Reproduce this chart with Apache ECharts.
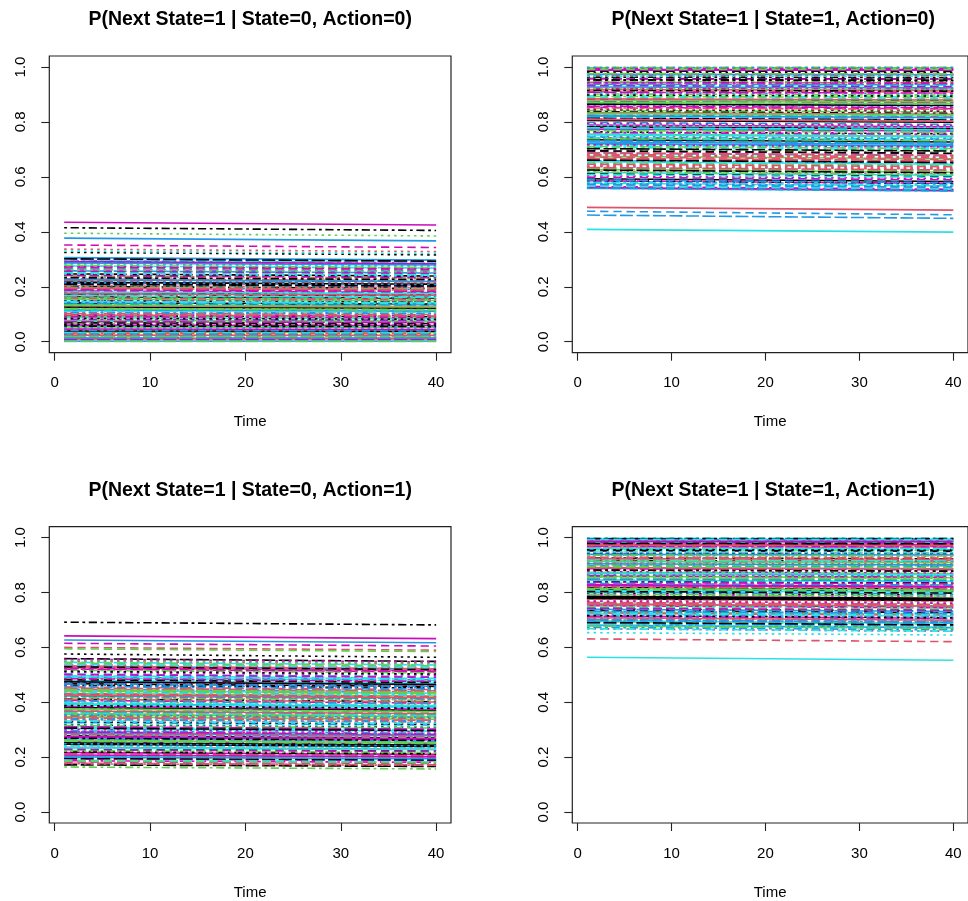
<!DOCTYPE html>
<html>
<head>
<meta charset="utf-8">
<script src="https://cdn.jsdelivr.net/npm/echarts@6/dist/echarts.min.js"></script>
<style>
html,body{margin:0;padding:0;background:#fff;}
#chart{width:968px;height:901px;}
</style>
</head>
<body>
<div id="chart"></div>
<script>
// Time points where each trajectory is drawn (first and last time step)
const timePoints = [1, 40];

// Panel titles
const panelTitles = [
  "P(Next State=1 | State=0, Action=0)",
  "P(Next State=1 | State=1, Action=0)",
  "P(Next State=1 | State=0, Action=1)",
  "P(Next State=1 | State=1, Action=1)"
];

// Axis tick labels
const xTicks = [0, 10, 20, 30, 40];
const yTicks = [0, 0.2, 0.4, 0.6, 0.8, 1.0];

// Panel 1: State=0, Action=0 (value at t=1, value at t=40)
const s0a0Start = [
0.142,0.268,0.395,0.021,0.187,0.435,0.094,0.337,0.231,0.058,
0.176,0.352,0.325,0.118,0.009,0.377,0.254,0.071,0.415,0.203,
0.035,0.289,0.33,0.152,0.247,0.012,0.129,0.196,0.083,0.301,
0.164,0.044,0.221,0.105,0.276,0.003,0.138,0.213,0.066,0.258,
0.117,0.185,0.027,0.239,0.092,0.306,0.158,0.015,0.201,0.134,
0.078,0.262,0.049,0.171,0.226,0.006,0.112,0.284,0.146,0.192,
0.039,0.218,0.101,0.295,0.167,0.061,0.243,0.124,0.018,0.207,
0.087,0.272,0.149,0.031,0.198,0.115,0.251,0.002,0.179,0.229,
0.054,0.136,0.281,0.098,0.212,0.024,0.161,0.265,0.075,0.189,
0.126,0.011,0.236,0.108,0.298,0.046,0.173,0.222,0.089,0.141,
0.004,0.257,0.063,0.194,0.119,0.287,0.032,0.183,0.233,0.097,
0.155,0.016,0.246,0.081,0.209,0.131,0.278,0.052,0.169,0.008,
0.216,0.103,0.262,0.041,0.147,0.292,0.069,0.204,0.121,0.013,
0.181,0.241,0.085,0.159,0.001,0.226,0.111,0.273,0.057,0.195,
0.133,0.028,0.249,0.091,0.302,0.175,0.019,0.215,0.144,0.073];
const s0a0End = [
0.137,0.260,0.385,0.020,0.181,0.425,0.091,0.328,0.224,0.056,
0.170,0.343,0.316,0.114,0.009,0.367,0.246,0.068,0.405,0.196,
0.034,0.281,0.321,0.147,0.239,0.012,0.124,0.190,0.080,0.292,
0.158,0.042,0.214,0.101,0.268,0.003,0.133,0.206,0.063,0.250,
0.113,0.179,0.026,0.231,0.089,0.297,0.152,0.015,0.194,0.129,
0.075,0.254,0.047,0.165,0.219,0.006,0.108,0.276,0.141,0.186,
0.038,0.211,0.097,0.287,0.161,0.059,0.236,0.120,0.018,0.200,
0.084,0.264,0.144,0.030,0.192,0.111,0.243,0.002,0.173,0.222,
0.052,0.131,0.273,0.094,0.205,0.023,0.155,0.257,0.072,0.183,
0.122,0.011,0.229,0.104,0.289,0.044,0.167,0.215,0.086,0.136,
0.004,0.249,0.061,0.188,0.115,0.279,0.031,0.177,0.226,0.093,
0.150,0.016,0.238,0.078,0.202,0.126,0.270,0.050,0.163,0.008,
0.209,0.099,0.254,0.039,0.142,0.284,0.066,0.197,0.117,0.013,
0.175,0.233,0.082,0.153,0.001,0.219,0.107,0.265,0.055,0.189,
0.128,0.027,0.241,0.088,0.293,0.169,0.019,0.208,0.139,0.070];

// Panel 2: State=1, Action=0
const s1a0Start = [
0.735,0.912,0.648,0.583,0.867,0.774,0.958,0.621,0.806,0.461,
0.409,0.693,0.981,0.562,0.842,0.727,0.889,0.604,0.951,0.668,
0.756,0.475,0.574,0.923,0.815,0.489,0.997,0.639,0.713,0.876,
0.782,0.571,0.934,0.659,0.828,0.991,0.612,0.749,0.902,0.686,
0.558,0.853,0.764,0.969,0.631,0.721,0.895,0.592,0.837,0.944,
0.675,0.798,0.986,0.565,0.741,0.918,0.652,0.861,0.707,0.975,
0.593,0.824,0.699,0.939,0.577,0.789,0.882,0.643,0.999,0.731,
0.616,0.957,0.845,0.682,0.769,0.927,0.597,0.811,0.963,0.664,
0.878,0.745,0.568,0.994,0.703,0.834,0.627,0.906,0.758,0.586,
0.865,0.672,0.948,0.719,0.819,0.561,0.985,0.637,0.893,0.776,
0.655,0.932,0.587,0.851,0.739,0.973,0.608,0.794,0.915,0.688,
0.831,0.572,0.966,0.762,0.625,0.884,0.711,0.998,0.579,0.857,
0.805,0.646,0.921,0.559,0.779,0.988,0.695,0.848,0.618,0.937,
0.753,0.599,0.898,0.678,0.976,0.822,0.566,0.717,0.954,0.634,
0.871,0.589,0.787,0.943,0.661,0.809,0.992,0.576,0.743,0.908];
const s1a0End = [
0.727,0.909,0.639,0.573,0.862,0.767,0.956,0.611,0.800,0.449,
0.399,0.684,0.980,0.552,0.836,0.719,0.885,0.594,0.949,0.659,
0.748,0.462,0.564,0.920,0.809,0.479,0.997,0.630,0.705,0.871,
0.775,0.561,0.931,0.650,0.822,0.991,0.602,0.741,0.898,0.677,
0.548,0.848,0.757,0.968,0.621,0.713,0.891,0.582,0.831,0.942,
0.666,0.791,0.985,0.555,0.733,0.915,0.643,0.856,0.699,0.974,
0.583,0.818,0.690,0.937,0.567,0.782,0.878,0.634,0.999,0.723,
0.606,0.955,0.840,0.673,0.762,0.924,0.587,0.805,0.961,0.655,
0.874,0.737,0.558,0.994,0.694,0.828,0.617,0.902,0.750,0.576,
0.860,0.663,0.946,0.711,0.813,0.551,0.984,0.628,0.889,0.769,
0.646,0.929,0.577,0.846,0.731,0.972,0.598,0.787,0.912,0.679,
0.825,0.562,0.965,0.755,0.615,0.880,0.703,0.998,0.569,0.852,
0.799,0.637,0.918,0.549,0.772,0.988,0.686,0.843,0.608,0.935,
0.745,0.589,0.894,0.669,0.975,0.816,0.556,0.709,0.952,0.625,
0.866,0.579,0.780,0.941,0.652,0.803,0.992,0.566,0.735,0.905];

// Panel 3: State=0, Action=1
const s0a1Start = [
0.278,0.600,0.417,0.352,0.489,0.642,0.231,0.537,0.164,0.396,
0.304,0.615,0.576,0.448,0.262,0.627,0.371,0.509,0.692,0.213,
0.433,0.326,0.552,0.187,0.468,0.289,0.595,0.384,0.243,0.521,
0.381,0.456,0.198,0.342,0.497,0.271,0.412,0.549,0.224,0.363,
0.479,0.256,0.318,0.438,0.205,0.531,0.389,0.294,0.462,0.178,
0.347,0.503,0.267,0.421,0.559,0.236,0.374,0.448,0.309,0.193,
0.252,0.485,0.401,0.337,0.546,0.217,0.429,0.284,0.517,0.366,
0.443,0.183,0.329,0.474,0.258,0.394,0.538,0.301,0.219,0.452,
0.356,0.492,0.241,0.407,0.172,0.526,0.315,0.463,0.279,0.385,
0.247,0.431,0.554,0.296,0.361,0.208,0.482,0.335,0.418,0.266,
0.392,0.227,0.513,0.349,0.441,0.286,0.189,0.472,0.378,0.532,
0.261,0.405,0.322,0.486,0.196,0.368,0.543,0.249,0.436,0.311,
0.475,0.343,0.222,0.458,0.398,0.275,0.529,0.176,0.359,0.423,
0.234,0.501,0.388,0.283,0.446,0.201,0.332,0.557,0.269,0.411,
0.376,0.468,0.239,0.524,0.306,0.427,0.185,0.354,0.494,0.292];
const s0a1End = [
0.270,0.590,0.407,0.343,0.479,0.632,0.224,0.527,0.157,0.386,
0.295,0.605,0.564,0.438,0.254,0.617,0.361,0.499,0.682,0.206,
0.423,0.317,0.542,0.181,0.458,0.281,0.585,0.374,0.235,0.511,
0.371,0.446,0.192,0.333,0.487,0.263,0.402,0.539,0.217,0.353,
0.469,0.248,0.309,0.428,0.198,0.521,0.379,0.285,0.452,0.172,
0.338,0.493,0.259,0.411,0.549,0.229,0.364,0.438,0.300,0.187,
0.244,0.475,0.391,0.328,0.536,0.210,0.419,0.276,0.507,0.356,
0.433,0.177,0.320,0.464,0.250,0.384,0.528,0.292,0.212,0.442,
0.347,0.482,0.233,0.397,0.166,0.516,0.306,0.453,0.271,0.375,
0.239,0.421,0.544,0.287,0.352,0.201,0.472,0.326,0.408,0.258,
0.382,0.220,0.503,0.340,0.431,0.278,0.183,0.462,0.368,0.522,
0.253,0.395,0.313,0.476,0.190,0.358,0.533,0.241,0.426,0.302,
0.465,0.334,0.215,0.448,0.388,0.267,0.519,0.170,0.350,0.413,
0.227,0.491,0.378,0.275,0.436,0.194,0.323,0.547,0.261,0.401,
0.366,0.458,0.231,0.514,0.297,0.417,0.179,0.345,0.484,0.283];

// Panel 4: State=1, Action=1
const s1a1Start = [
0.781,0.631,0.934,0.712,0.868,0.976,0.745,0.903,0.823,0.687,
0.564,0.952,0.798,0.881,0.729,0.991,0.846,0.668,0.917,0.764,
0.859,0.703,0.654,0.941,0.812,0.985,0.738,0.896,0.677,0.963,
0.786,0.927,0.834,0.719,0.998,0.871,0.756,0.945,0.694,0.889,
0.807,0.969,0.741,0.912,0.852,0.681,0.979,0.792,0.926,0.725,
0.874,0.958,0.768,0.838,0.996,0.708,0.893,0.817,0.948,0.752,
0.778,0.921,0.863,0.673,0.984,0.829,0.735,0.908,0.956,0.801,
0.697,0.887,0.943,0.776,0.853,0.993,0.722,0.915,0.841,0.965,
0.759,0.898,0.683,0.937,0.818,0.972,0.747,0.866,0.989,0.714,
0.784,0.929,0.856,0.701,0.961,0.826,0.953,0.773,0.901,0.739,
0.845,0.982,0.716,0.884,0.794,0.939,0.668,0.876,0.997,0.762,
0.913,0.833,0.751,0.967,0.691,0.891,0.812,0.946,0.726,0.861,
0.779,0.974,0.859,0.732,0.919,0.987,0.804,0.706,0.936,0.848,
0.871,0.743,0.957,0.821,0.678,0.905,0.994,0.768,0.882,0.924,
0.815,0.698,0.949,0.838,0.979,0.757,0.894,0.731,0.962,0.826];
const s1a1End = [
0.774,0.621,0.931,0.704,0.863,0.975,0.737,0.899,0.817,0.678,
0.553,0.950,0.791,0.877,0.721,0.991,0.841,0.659,0.914,0.757,
0.854,0.694,0.645,0.939,0.806,0.984,0.730,0.892,0.668,0.961,
0.779,0.924,0.828,0.711,0.998,0.866,0.748,0.943,0.685,0.885,
0.801,0.968,0.733,0.909,0.847,0.672,0.978,0.785,0.923,0.717,
0.869,0.956,0.761,0.832,0.996,0.699,0.889,0.811,0.946,0.744,
0.771,0.918,0.858,0.664,0.983,0.823,0.727,0.905,0.954,0.794,
0.688,0.883,0.941,0.769,0.848,0.993,0.714,0.912,0.835,0.964,
0.751,0.894,0.674,0.935,0.812,0.971,0.739,0.861,0.989,0.706,
0.777,0.926,0.851,0.692,0.960,0.820,0.951,0.766,0.897,0.731,
0.840,0.981,0.708,0.880,0.787,0.937,0.659,0.871,0.997,0.755,
0.910,0.827,0.743,0.966,0.682,0.887,0.806,0.944,0.718,0.856,
0.772,0.973,0.854,0.724,0.916,0.986,0.798,0.698,0.934,0.843,
0.866,0.735,0.955,0.815,0.669,0.901,0.994,0.761,0.878,0.921,
0.809,0.689,0.947,0.832,0.978,0.750,0.890,0.723,0.960,0.820];

const panelStarts = [s0a0Start, s1a0Start, s0a1Start, s1a1Start];
const panelEnds = [s0a0End, s1a0End, s0a1End, s1a1End];

// R default palette (col = 1:6) and line types (lty = 1:5)
const palette = ["#000000", "#DF536B", "#61D04F", "#2297E6", "#28E2E5", "#CD0BBC"];
const dashes = ["solid", [8.3, 4.9], [2.5, 4.1], [2.8, 3.6, 8.2, 3.6], [13, 3.5]];

const FONT = "Liberation Sans, Arial, Helvetica, sans-serif";
const grids = [
  {left: 49.3, top: 56, width: 401.7, height: 296.7},
  {left: 572.3, top: 56, width: 401.7, height: 296.7},
  {left: 49.3, top: 526.7, width: 401.7, height: 296.7},
  {left: 572.3, top: 526.7, width: 401.7, height: 296.7}
];

const chart = echarts.init(document.getElementById('chart'), null, {renderer: 'canvas'});

const option = {
  animation: false,
  backgroundColor: '#ffffff',
  title: grids.map((g, p) => ({
    text: panelTitles[p],
    left: g.left + g.width / 2,
    textAlign: 'center',
    top: g.top - 46,
    padding: 0,
    textStyle: {fontFamily: FONT, fontWeight: 'bold', fontSize: 19.5, color: '#000'}
  })),
  grid: grids.map(g => ({
    left: g.left, top: g.top, width: g.width, height: g.height,
    show: true, borderColor: '#222', borderWidth: 1.2, backgroundColor: 'transparent',
    containLabel: false
  })),
  xAxis: grids.map((g, p) => ({
    gridIndex: p, type: 'value', min: -0.56, max: 41.56,
    axisLine: {show: false, onZero: false},
    splitLine: {show: false},
    axisTick: {show: true, inside: false, length: 8, customValues: xTicks, lineStyle: {color: '#222', width: 1.1}},
    axisLabel: {customValues: xTicks, fontSize: 15, fontFamily: FONT, color: '#000', margin: 23},
    name: 'Time', nameLocation: 'middle', nameGap: 62,
    nameTextStyle: {fontSize: 15, fontFamily: FONT, color: '#000'}
  })),
  yAxis: grids.map((g, p) => ({
    gridIndex: p, type: 'value', min: -0.04, max: 1.04,
    axisLine: {show: false, onZero: false},
    splitLine: {show: false},
    axisTick: {show: true, inside: false, length: 8, customValues: yTicks, lineStyle: {color: '#222', width: 1.1}},
    axisLabel: {customValues: yTicks, fontSize: 15, fontFamily: FONT, color: '#000', margin: 20.5,
      rotate: 90, formatter: v => Number(v).toFixed(1)}
  })),
  series: []
};

for (let p = 0; p < 4; p++) {
  const st = panelStarts[p], en = panelEnds[p];
  for (let i = 0; i < st.length; i++) {
    option.series.push({
      type: 'line',
      xAxisIndex: p, yAxisIndex: p,
      data: [[timePoints[0], st[i]], [timePoints[1], en[i]]],
      symbol: 'none',
      silent: true,
      lineStyle: {color: palette[i % 6], width: 1.6, type: dashes[i % 5], cap: 'butt'},
      z: 2
    });
  }
}

chart.setOption(option);
</script>
</body>
</html>
